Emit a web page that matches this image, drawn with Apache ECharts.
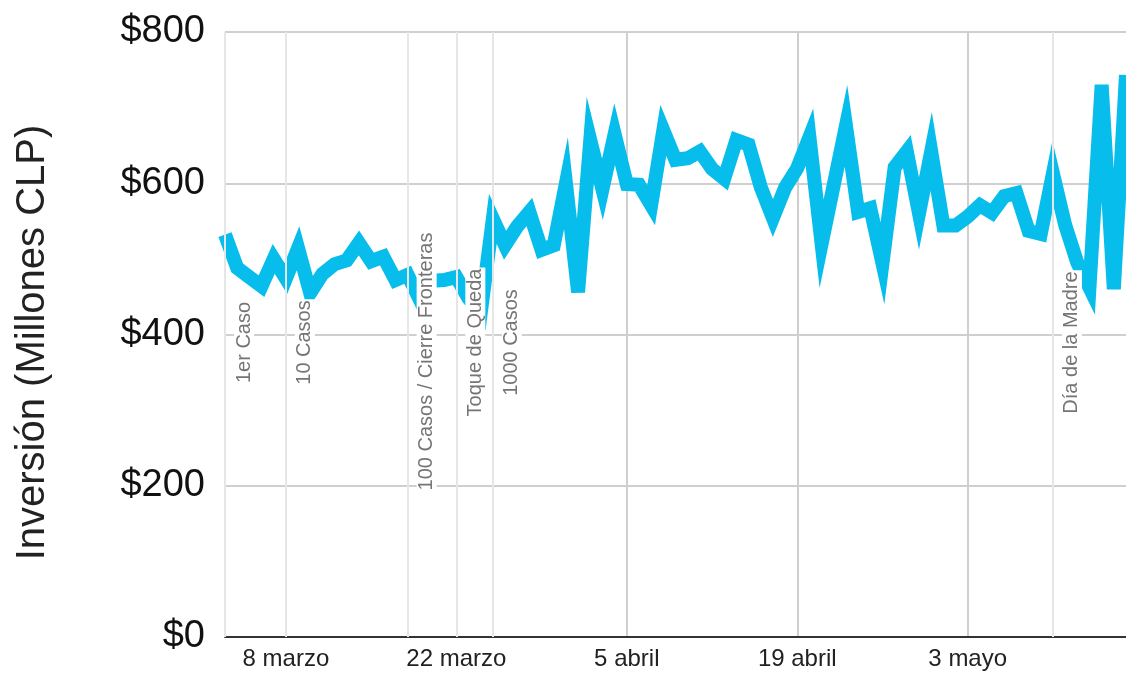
<!DOCTYPE html>
<html>
<head>
<meta charset="utf-8">
<script src="https://cdn.jsdelivr.net/npm/echarts@6/dist/echarts.min.js"></script>
<style>
  html, body { margin: 0; padding: 0; background: #fff; }
  #chart { width: 1126px; height: 674px; }
</style>
</head>
<body>
<div id="chart"></div>
<script>
// days, 3 March - 16 May
var days = [
  '3/3', '4/3', '5/3', '6/3', '7/3', '8/3', '9/3', '10/3', '11/3', '12/3',
  '13/3', '14/3', '15/3', '16/3', '17/3', '18/3', '19/3', '20/3', '21/3', '22/3',
  '23/3', '24/3', '25/3', '26/3', '27/3', '28/3', '29/3', '30/3', '31/3',
  '1/4', '2/4', '3/4', '4/4', '5/4', '6/4', '7/4', '8/4', '9/4', '10/4',
  '11/4', '12/4', '13/4', '14/4', '15/4', '16/4', '17/4', '18/4', '19/4', '20/4',
  '21/4', '22/4', '23/4', '24/4', '25/4', '26/4', '27/4', '28/4', '29/4', '30/4',
  '1/5', '2/5', '3/5', '4/5', '5/5', '6/5', '7/5', '8/5', '9/5', '10/5',
  '11/5', '12/5', '13/5', '14/5', '15/5', '16/5'
];

// inversion, millones CLP
var inversion = [
  532, 488, 476, 464, 500, 474, 514, 455, 480, 493,
  498, 521, 497, 503, 472, 479, 446, 471, 472, 476,
  448, 428, 553, 518, 543, 562, 512, 518, 600,
  456, 657, 592, 665, 599, 598, 571, 670, 631, 633,
  642, 619, 606, 657, 651, 595, 554, 594, 620, 661,
  520, 598, 676, 562, 567, 494, 621, 642, 560, 642,
  544, 544, 556, 571, 561, 583, 587, 537, 533, 613,
  545, 495, 462, 730, 460, 743
];

var tickDays = ['8/3', '22/3', '5/4', '19/4', '3/5'];
var tickLabels = ['8 marzo', '22 marzo', '5 abril', '19 abril', '3 mayo'];

var eventDays = ['3/3', '8/3', '18/3', '22/3', '25/3', '10/5'];
var eventLabels = ['1er Caso', '10 Casos', '100 Casos / Cierre Fronteras', 'Toque de Queda', '1000 Casos', 'Día de la Madre'];

var font = "'Liberation Sans', Arial, sans-serif";

var chart = echarts.init(document.getElementById('chart'));

function isTick(i, v) {
  return tickDays.indexOf(v) >= 0;
}

var eventLines = eventDays.map(function (d) {
  return { xAxis: d };
});
var eventTexts = eventDays.map(function (d, i) {
  // an empty spacer after the text pushes the label down a little
  var pad = eventLabels[i].length > 20 ? 54 : 16;
  return {
    xAxis: d,
    label: {
      formatter: '{t|' + eventLabels[i] + '}{s| }',
      rich: {
        t: { fontFamily: font, fontSize: 20, color: '#757575', backgroundColor: '#fff', padding: [0, 1] },
        s: { width: pad, fontSize: 20 }
      }
    }
  };
});

var option = {
  animation: false,
  grid: { left: 225, right: 0, top: 32, bottom: 37, containLabel: false },
  xAxis: {
    type: 'category',
    data: days,
    boundaryGap: false,
    axisLine: { lineStyle: { color: '#333', width: 2 } },
    axisTick: { show: false },
    axisLabel: {
      interval: isTick,
      formatter: function (v) {
        return tickLabels[tickDays.indexOf(v)];
      },
      fontFamily: font,
      fontSize: 24,
      color: '#222',
      margin: 10
    },
    splitLine: {
      show: true,
      interval: isTick,
      lineStyle: { color: '#cfcfcf', width: 2 }
    }
  },
  yAxis: {
    type: 'value',
    min: 0,
    max: 800,
    interval: 200,
    name: 'Inversión (Millones CLP)',
    nameLocation: 'middle',
    nameGap: 172,
    nameTextStyle: { fontFamily: font, fontSize: 40, color: '#222', padding: [0, 16, 0, 0] },
    axisLine: { show: false },
    axisTick: { show: false },
    axisLabel: {
      formatter: function (v) { return '$' + v; },
      fontFamily: font,
      fontSize: 38,
      color: '#111',
      margin: 20
    },
    splitLine: { lineStyle: { color: '#cfcfcf', width: 2 } }
  },
  series: [
    {
      name: 'eventos',
      type: 'line',
      data: [],
      z: 1,
      silent: true,
      markLine: {
        silent: true,
        symbol: 'none',
        animation: false,
        lineStyle: { color: '#e6e6e6', width: 2, type: 'solid' },
        label: { show: false },
        data: eventLines
      }
    },
    {
      name: 'Inversión',
      type: 'line',
      data: inversion,
      z: 2,
      symbol: 'none',
      lineStyle: { color: '#07bdec', width: 14, join: 'miter', miterLimit: 10 }
    },
    {
      name: 'etiquetas',
      type: 'line',
      data: [],
      z: 5,
      silent: true,
      markLine: {
        silent: true,
        symbol: 'none',
        animation: false,
        lineStyle: { color: 'rgba(255,255,255,0)', width: 0 },
        label: {
          show: true,
          position: 'insideMiddleBottom',
          distance: 9,
          fontFamily: font,
          fontSize: 20,
          color: '#757575'
        },
        data: eventTexts
      }
    }
  ]
};

chart.setOption(option);
</script>
</body>
</html>
